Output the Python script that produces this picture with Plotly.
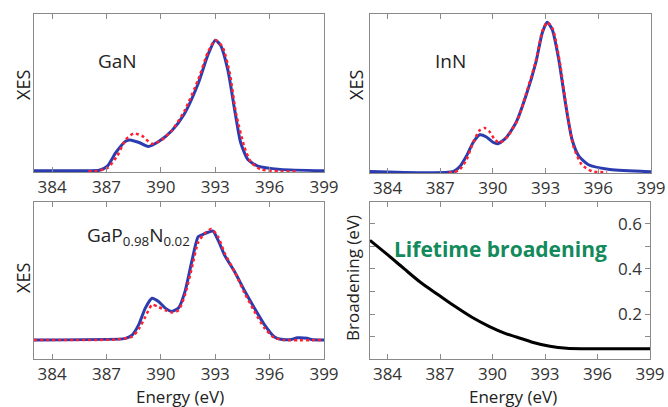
import plotly.graph_objects as go

# ---------------- data ----------------
gan_blue_e = [383, 385, 386.6, 387.05, 387.5, 388.05, 388.3, 388.8, 389.3, 389.9, 390.6, 391.3, 392.06, 392.6, 393.0, 393.3, 393.7, 394.07, 394.4, 394.8, 395.35, 396.6, 399]
gan_blue_i = [0.005, 0.005, 0.008, 0.04, 0.14, 0.23, 0.24, 0.22, 0.19, 0.23, 0.31, 0.44, 0.67, 0.89, 1.0, 0.96, 0.77, 0.47, 0.22, 0.09, 0.04, 0.015, 0.005]
gan_red_e = [386.0, 386.5, 387.1, 387.6, 388.05, 388.5, 388.96, 389.5, 390.05, 390.6, 391.3, 392.06, 392.6, 393.0, 393.4, 393.8, 394.15, 394.6, 394.97, 395.5, 396.5, 397.5]
gan_red_i = [0.0, 0.002, 0.03, 0.12, 0.24, 0.29, 0.27, 0.21, 0.24, 0.31, 0.46, 0.70, 0.91, 1.0, 0.95, 0.75, 0.44, 0.19, 0.07, 0.015, 0.0, 0.0]

inn_blue_e = [383, 387.75, 388.13, 388.5, 388.88, 389.25, 389.63, 390.0, 390.28, 390.75, 391.31, 391.88, 392.44, 392.81, 393.09, 393.38, 393.75, 394.13, 394.5, 394.88, 395.44, 396.56, 398.63, 399]
inn_blue_i = [0.005, 0.005, 0.04, 0.11, 0.2, 0.25, 0.235, 0.2, 0.19, 0.23, 0.33, 0.51, 0.73, 0.93, 1.0, 0.95, 0.75, 0.46, 0.22, 0.11, 0.05, 0.02, 0.005, 0.003]
inn_red_e = [387.5, 387.8, 388.13, 388.5, 388.88, 389.25, 389.53, 389.81, 390.09, 390.38, 390.84, 391.41, 391.88, 392.44, 392.81, 393.09, 393.41, 393.84, 394.22, 394.59, 395.06, 395.63, 396.5]
inn_red_i = [0.0, 0.0, 0.02, 0.085, 0.2, 0.28, 0.295, 0.27, 0.22, 0.195, 0.24, 0.35, 0.52, 0.74, 0.94, 1.0, 0.955, 0.71, 0.40, 0.17, 0.05, 0.007, 0.0]

gap_blue_e = [383, 387.87, 388.05, 388.41, 388.78, 389.14, 389.51, 389.87, 390.24, 390.6, 390.97, 391.33, 391.7, 392.06, 392.33, 392.61, 392.88, 393.15, 393.52, 394.07, 394.61, 395.16, 395.71, 396.25, 396.62, 397.2, 397.53, 398.08, 398.3, 399]
gap_blue_i = [0.0, 0.01, 0.015, 0.045, 0.14, 0.29, 0.38, 0.35, 0.29, 0.26, 0.29, 0.44, 0.71, 0.94, 0.96, 0.98, 0.99, 0.91, 0.77, 0.62, 0.45, 0.29, 0.14, 0.03, 0.006, 0.005, 0.02, 0.015, 0.005, 0.0]
gap_red_e = [383, 387.5, 388.41, 388.78, 389.14, 389.51, 389.87, 390.24, 390.6, 390.97, 391.33, 391.7, 392.06, 392.42, 392.79, 393.15, 393.52, 394.07, 394.61, 395.16, 395.71, 396.25, 396.8, 399]
gap_red_i = [0.0, 0.005, 0.03, 0.1, 0.21, 0.32, 0.30, 0.27, 0.25, 0.27, 0.41, 0.65, 0.89, 0.97, 1.01, 0.94, 0.79, 0.62, 0.43, 0.26, 0.11, 0.02, 0.0, 0.0]

brd_e = [383, 384, 384.96, 385.9, 386.9, 387.85, 388.8, 389.8, 390.75, 391.37, 392.33, 393.28, 394.24, 395.2, 396, 397, 398, 399]
brd_v = [0.526, 0.463, 0.40, 0.34, 0.286, 0.235, 0.188, 0.147, 0.115, 0.10, 0.076, 0.059, 0.05, 0.048, 0.048, 0.048, 0.048, 0.048]

x_ticks = [384, 387, 390, 393, 396, 399]
b_tickvals = [0.1, 0.2, 0.3, 0.4, 0.5, 0.6]
b_labelvals = [0.2, 0.4, 0.6]

BLUE = "#2b3cb0"
RED = "#ff2030"
FONT = "Open Sans"
AX = "#8a8a8a"
TXT = "#333333"

fig = go.Figure()

def add_pair(be, bi, re_, ri, xa, ya):
    fig.add_trace(go.Scatter(x=be, y=bi, mode="lines", line=dict(color=BLUE, width=3, shape="spline", smoothing=0.6),
                             xaxis=xa, yaxis=ya, showlegend=False))
    fig.add_trace(go.Scatter(x=re_, y=ri, mode="lines", line=dict(color=RED, width=2.5, dash="dot", shape="spline", smoothing=0.6),
                             xaxis=xa, yaxis=ya, showlegend=False))

add_pair(gan_blue_e, gan_blue_i, gan_red_e, gan_red_i, "x", "y")
add_pair(inn_blue_e, inn_blue_i, inn_red_e, inn_red_i, "x2", "y2")
add_pair(gap_blue_e, gap_blue_i, gap_red_e, gap_red_i, "x3", "y3")
fig.add_trace(go.Scatter(x=brd_e, y=brd_v, mode="lines", line=dict(color="black", width=3, shape="spline", smoothing=0.8),
                         xaxis="x4", yaxis="y4", showlegend=False))
# invisible helper trace so the label-only axis pair (x5/y5) is drawn
fig.add_trace(go.Scatter(x=[None], y=[None], xaxis="x5", yaxis="y5", showlegend=False, hoverinfo="skip"))

W, H = 668, 407
def dx(a, b):
    return [a / W, b / W]
def dy(top, bot):
    return [1 - bot / H, 1 - top / H]

xcommon = dict(range=[383, 399], tickvals=x_ticks, ticks="inside", ticklen=5, tickcolor=AX,
               showline=True, linecolor=AX, linewidth=1, mirror="ticks", showgrid=False, zeroline=False,
               automargin=False, tickfont=dict(family=FONT, size=17, color=TXT))
ycommon = dict(showline=True, linecolor=AX, linewidth=1, mirror=True, showgrid=False, zeroline=False,
               showticklabels=False, ticks="", automargin=False)

BR_RANGE = [0.003, 0.695]
fig.update_layout(
    width=W, height=H, margin=dict(l=0, r=0, t=0, b=0),
    paper_bgcolor="white", plot_bgcolor="white",
    xaxis=dict(domain=dx(34, 324), anchor="y", **xcommon),
    yaxis=dict(domain=dy(14, 172), anchor="x", range=[-0.005, 1.2], **ycommon),
    xaxis2=dict(domain=dx(370, 651), anchor="y2", **xcommon),
    yaxis2=dict(domain=dy(14, 173), anchor="x2", range=[-0.005, 1.055], **ycommon),
    xaxis3=dict(domain=dx(34, 324), anchor="y3", **xcommon),
    yaxis3=dict(domain=dy(202, 359), anchor="x3", range=[-0.173, 1.255], **ycommon),
    xaxis4=dict(domain=dx(370, 650), anchor="y4", **xcommon),
    yaxis4=dict(domain=dy(202, 359), anchor="x4", range=BR_RANGE, side="right",
                tickvals=b_tickvals, ticks="inside", ticklen=5, tickcolor=AX, showticklabels=False,
                showline=True, linecolor=AX, linewidth=1, mirror="ticks",
                showgrid=False, zeroline=False, automargin=False),
    xaxis5=dict(domain=dx(370, 650), anchor="y5", range=[383, 399], overlaying="x4", visible=False),
    yaxis5=dict(domain=dy(202, 359), anchor="x5", overlaying="y4", side="right",
                range=BR_RANGE, tickvals=b_labelvals, ticks="", ticklabelposition="inside",
                ticklabelstandoff=5, showline=False, showgrid=False, zeroline=False, automargin=False,
                tickfont=dict(family=FONT, size=17, color=TXT)),
)

def ann(text, x, y, size=18, color="#222222", angle=0, bold=False):
    fig.add_annotation(text=("<b>%s</b>" % text) if bold else text, x=x / W, y=1 - y / H,
                       xref="paper", yref="paper", showarrow=False, textangle=angle,
                       font=dict(family=FONT, size=size, color=color), xanchor="center", yanchor="middle")

ann("XES", 23, 85, angle=-90)
ann("XES", 356, 85, angle=-90)
ann("XES", 23, 278, angle=-90)
ann("Broadening (eV)", 352, 278, size=17, angle=-90)
ann("Energy (eV)", 180, 396, size=17)
ann("Energy (eV)", 513, 396, size=17)
ann("GaN", 117, 61, size=19)
ann("InN", 450, 61, size=19)
ann("GaP<sub>0.98</sub>N<sub>0.02</sub>", 138, 236, size=19)
ann("Lifetime broadening", 500, 249, size=21, color="#138a5c", bold=True)

fig.write_html("out.html", config={"displayModeBar": False},
               post_script="document.body.style.margin='0px';document.body.style.overflow='hidden';")
